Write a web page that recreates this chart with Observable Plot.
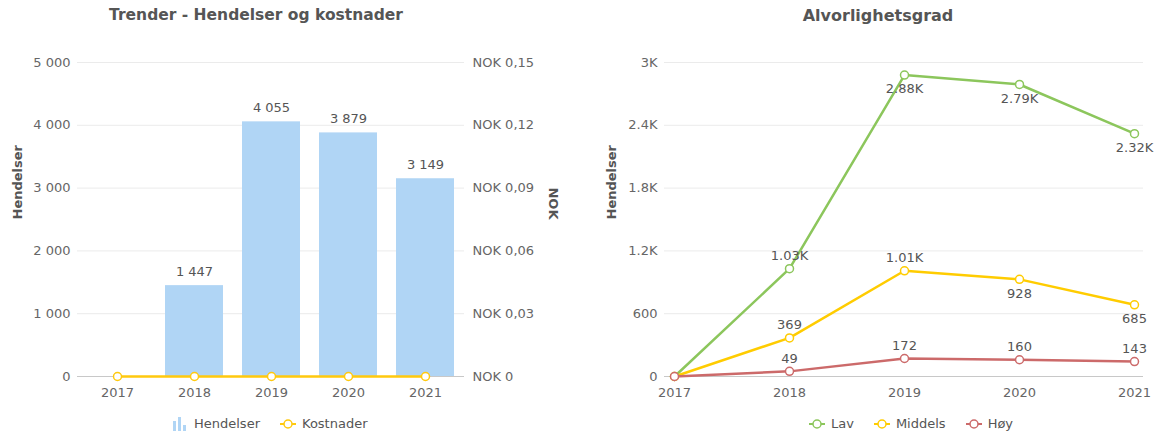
<!DOCTYPE html>
<html>
<head>
<meta charset="utf-8">
<script src="https://cdn.jsdelivr.net/npm/d3@7"></script>
<script src="https://cdn.jsdelivr.net/npm/@observablehq/plot@0.6"></script>
<style>
  body { margin: 0; background: #fff; font-family: "DejaVu Sans", Verdana, sans-serif; }
  #wrap { position: relative; width: 1159px; height: 435px; overflow: hidden; }
  .title { position: absolute; top: 6px; font-weight: bold; font-size: 16px; color: #555; white-space: nowrap; transform: translateX(-50%); }
  .chart { position: absolute; top: 35px; }
  .legend { position: absolute; top: 416px; font-size: 13px; color: #555; display: flex; align-items: center; white-space: nowrap; }
  .legend .item { display: flex; align-items: center; margin-right: 20px; }
  .legend .item:last-child { margin-right: 0; }
  .legend svg { margin-right: 6px; }
</style>
</head>
<body>
<div id="wrap">
  <div class="title" style="left:256px;font-size:15.5px">Trender - Hendelser og kostnader</div>
  <div class="title" style="left:878px">Alvorlighetsgrad</div>
  <div id="left" class="chart" style="left:0px"></div>
  <div id="right" class="chart" style="left:580px"></div>
  <div id="legL" class="legend" style="left:172px"></div>
  <div id="legR" class="legend" style="left:809px"></div>
</div>
<script>
// ---- data ----
const years = ["2017", "2018", "2019", "2020", "2021"];
const hendelser = [0, 1447, 4055, 3879, 3149];
const kostnader = [0, 0, 0, 0, 0];
const hendelserTicks = [0, 1000, 2000, 3000, 4000, 5000];
const nokTicks = [0, 0.03, 0.06, 0.09, 0.12, 0.15];

const severityNames = ["Lav", "Middels", "Høy"];
const lav = [0, 1030, 2880, 2790, 2320];
const middels = [0, 369, 1010, 928, 685];
const hoy = [0, 49, 172, 160, 143];
const severityTicks = [0, 600, 1200, 1800, 2400, 3000];
// which data labels sit below their point
const labelsBelow = {"Lav": ["2019", "2020", "2021"], "Middels": ["2020", "2021"], "Høy": []};

// ---- styles ----
const barColor = "#b0d5f5";
const costColor = "#ffc90e";
const sevColors = ["#8cc65c", "#ffcc00", "#cc6a6a"];
const gridColor = "#ebebeb";
const axisColor = "#c8c8c8";
const font = "DejaVu Sans, Verdana, sans-serif";

const spaceFmt = d => d3.format(",")(d).replace(/,/g, " ");
const nokFmt = v => "NOK " + (v === 0 ? "0" : v.toFixed(2).replace(".", ","));
const kFmt = v => v >= 1000 ? (Math.round(v / 10) / 100) + "K" : String(v);

// ---- left chart ----
const hMax = 5000, nokMax = 0.15;
const factor = hMax / nokMax;
const barData = years.map((y, i) => ({year: y, value: hendelser[i]}));
const costData = years.map((y, i) => ({year: y, value: kostnader[i] * factor}));

const left = Plot.plot({
  width: 580, height: 375,
  marginTop: 27, marginBottom: 34, marginLeft: 77, marginRight: 116,
  style: {fontFamily: font, fontSize: "13px", color: "#666", background: "transparent"},
  x: {type: "band", domain: years, paddingInner: 0.25, paddingOuter: 0.125},
  y: {domain: [0, hMax]},
  marks: [
    Plot.gridY(hendelserTicks, {stroke: gridColor, strokeOpacity: 1}),
    Plot.barY(barData, {x: "year", y: "value", fill: barColor}),
    Plot.ruleY([0], {stroke: axisColor}),
    Plot.line(costData, {x: "year", y: "value", stroke: costColor, strokeWidth: 2.5}),
    Plot.dot(costData, {x: "year", y: "value", stroke: costColor, fill: "white", r: 4, strokeWidth: 1.5}),
    Plot.text(barData.filter(d => d.value > 0), {x: "year", y: "value", text: d => spaceFmt(d.value), dy: -10, lineAnchor: "bottom", fill: "#555", fontSize: 13}),
    Plot.axisY(hendelserTicks, {anchor: "left", tickSize: 0, tickPadding: 7, tickFormat: spaceFmt, label: null, fill: "#666"}),
    Plot.axisY(nokTicks.map(v => v * factor), {anchor: "right", tickSize: 0, tickPadding: 8, tickFormat: d => nokFmt(Math.round(d / factor * 100) / 100), label: null, fill: "#666"}),
    Plot.axisX({tickSize: 0, tickPadding: 11, label: null, fill: "#666"}),
    Plot.text(["Hendelser"], {frameAnchor: "left", dx: -60, rotate: -90, fontWeight: "bold", fill: "#555", fontSize: 13}),
    Plot.text(["NOK"], {frameAnchor: "right", dx: 89, rotate: 90, fontWeight: "bold", fill: "#555", fontSize: 13})
  ]
});
document.getElementById("left").appendChild(left);

// ---- right chart ----
const seriesValues = [lav, middels, hoy];
const sevData = [];
severityNames.forEach((s, si) => years.forEach((y, i) => sevData.push({series: s, year: y, value: seriesValues[si][i]})));
const labeled = sevData.filter(d => d.value > 0);
const isBelow = d => labelsBelow[d.series].includes(d.year);

const right = Plot.plot({
  width: 579, height: 375,
  marginTop: 27, marginBottom: 34, marginLeft: 84, marginRight: 16,
  style: {fontFamily: font, fontSize: "13px", color: "#666", background: "transparent"},
  x: {type: "point", domain: years, padding: 0.07},
  y: {domain: [0, 3000]},
  color: {domain: severityNames, range: sevColors},
  marks: [
    Plot.gridY(severityTicks, {stroke: gridColor, strokeOpacity: 1}),
    Plot.ruleY([0], {stroke: axisColor}),
    Plot.line(sevData, {x: "year", y: "value", z: "series", stroke: "series", strokeWidth: 2.5}),
    Plot.dot(sevData, {x: "year", y: "value", stroke: "series", fill: "white", r: 4, strokeWidth: 1.5}),
    Plot.text(labeled.filter(d => !isBelow(d)), {x: "year", y: "value", text: d => kFmt(d.value), dy: -13, fill: "#555", fontSize: 13}),
    Plot.text(labeled.filter(isBelow), {x: "year", y: "value", text: d => kFmt(d.value), dy: 14, fill: "#555", fontSize: 13}),
    Plot.axisY(severityTicks, {anchor: "left", tickSize: 0, tickPadding: 7, tickFormat: kFmt, label: null, fill: "#666"}),
    Plot.axisX({tickSize: 0, tickPadding: 11, label: null, fill: "#666"}),
    Plot.text(["Hendelser"], {frameAnchor: "left", dx: -53, rotate: -90, fontWeight: "bold", fill: "#555", fontSize: 13})
  ]
});
document.getElementById("right").appendChild(right);

// ---- legends ----
function lineIcon(color) {
  return `<svg width="16" height="12"><line x1="0" y1="6" x2="16" y2="6" stroke="${color}" stroke-width="2"/><circle cx="8" cy="6" r="4" fill="white" stroke="${color}" stroke-width="1.5"/></svg>`;
}
function barIcon(color) {
  return `<svg width="16" height="14"><rect x="1" y="4" width="3" height="10" fill="${color}"/><rect x="6" y="0" width="3" height="14" fill="${color}"/><rect x="11" y="8" width="3" height="6" fill="${color}"/></svg>`;
}
document.getElementById("legL").innerHTML =
  `<div class="item">${barIcon(barColor)}<span>Hendelser</span></div>` +
  `<div class="item">${lineIcon(costColor)}<span>Kostnader</span></div>`;
document.getElementById("legR").innerHTML = severityNames.map((s, i) =>
  `<div class="item">${lineIcon(sevColors[i])}<span>${s}</span></div>`).join("");
</script>
</body>
</html>
